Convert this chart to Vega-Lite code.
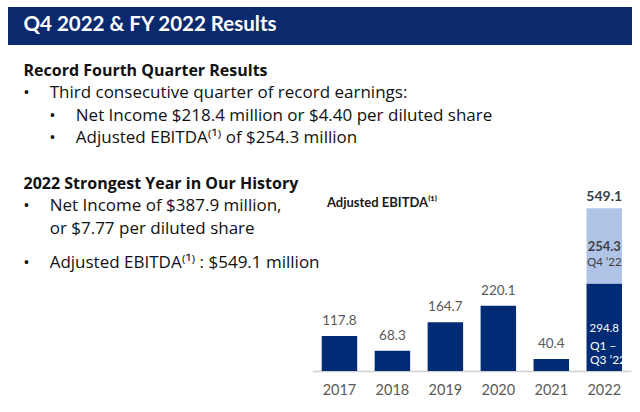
{
  "$schema": "https://vega.github.io/schema/vega-lite/v6.json",
  "width": 624,
  "height": 364,
  "autosize": "none",
  "padding": {"left": 8, "top": 7, "right": 8, "bottom": 41},
  "background": "white",
  "config": {
    "view": {"stroke": null},
    "text": {"font": "Lato"},
    "axis": {"labelFont": "Lato"}
  },
  "datasets": {
    "lines": [
      {"row": 0, "level": 0, "kind": "title", "bullet": false, "text": "Q4 2022 & FY 2022 Results"},
      {"row": 4, "level": 0, "kind": "heading", "bullet": false, "text": "Record Fourth Quarter Results"},
      {"row": 6, "level": 1, "kind": "item", "bullet": true, "text": "Third consecutive quarter of record earnings:"},
      {"row": 8, "level": 2, "kind": "item", "bullet": true, "text": "Net Income $218.4 million or $4.40 per diluted share"},
      {"row": 10, "level": 2, "kind": "item", "bullet": true, "text": "Adjusted EBITDA⁽¹⁾ of $254.3 million"},
      {"row": 14, "level": 0, "kind": "heading", "bullet": false, "text": "2022 Strongest Year in Our History"},
      {"row": 16, "level": 1, "kind": "item", "bullet": true, "text": "Net Income of $387.9 million,"},
      {"row": 18, "level": 1, "kind": "item", "bullet": false, "text": "or $7.77 per diluted share"},
      {"row": 21, "level": 1, "kind": "item", "bullet": true, "text": "Adjusted EBITDA⁽¹⁾ : $549.1 million"}
    ],
    "ebitda": [
      {"year": "2017", "part": "Full year", "value": 117.8},
      {"year": "2018", "part": "Full year", "value": 68.3},
      {"year": "2019", "part": "Full year", "value": 164.7},
      {"year": "2020", "part": "Full year", "value": 220.1},
      {"year": "2021", "part": "Full year", "value": 40.4},
      {"year": "2022", "part": "Q1 –\nQ3 ’22", "value": 294.8},
      {"year": "2022", "part": "Q4 ’22", "value": 254.3}
    ]
  },
  "layer": [
    {
      "data": {"name": "lines"},
      "layer": [
        {
          "transform": [{"filter": "datum.kind == 'title'"}],
          "mark": {"type": "rect", "color": "#0b2a6e"},
          "encoding": {
            "y": {"datum": -2.101, "type": "quantitative", "scale": {"domain": [-2.101, 30.17], "reverse": true, "nice": false, "zero": false}, "axis": null},
            "y2": {"datum": 1.27}
          }
        },
        {
          "transform": [{"filter": "datum.kind == 'title'"}],
          "mark": {"type": "text", "align": "left", "baseline": "alphabetic", "fontSize": 20.5, "fontWeight": "bold", "color": "white"},
          "encoding": {
            "x": {"field": "level", "type": "quantitative", "scale": {"domain": [-0.5927, 23.27], "nice": false, "zero": false}, "axis": null},
            "y": {"field": "row", "type": "quantitative", "scale": {"domain": [-2.101, 30.17], "reverse": true, "nice": false, "zero": false}, "axis": null},
            "text": {"field": "text"}
          }
        },
        {
          "transform": [{"filter": "datum.kind == 'heading'"}],
          "mark": {"type": "text", "align": "left", "baseline": "alphabetic", "font": "Open Sans", "fontSize": 16, "fontWeight": "bold", "color": "#111111"},
          "encoding": {
            "x": {"field": "level", "type": "quantitative"},
            "y": {"field": "row", "type": "quantitative"},
            "text": {"field": "text"}
          }
        },
        {
          "transform": [{"filter": "datum.kind == 'item'"}],
          "mark": {"type": "text", "align": "left", "baseline": "alphabetic", "font": "Open Sans", "fontSize": 17, "color": "#111111"},
          "encoding": {
            "x": {"field": "level", "type": "quantitative"},
            "y": {"field": "row", "type": "quantitative"},
            "text": {"field": "text"}
          }
        },
        {
          "transform": [{"filter": "datum.bullet"}],
          "mark": {"type": "text", "align": "left", "baseline": "alphabetic", "font": "Open Sans", "fontSize": 17, "color": "#111111", "text": "•", "dx": -26.5},
          "encoding": {
            "x": {"field": "level", "type": "quantitative"},
            "y": {"field": "row", "type": "quantitative"}
          }
        }
      ]
    },
    {
      "data": {"name": "ebitda"},
      "transform": [
        {"stack": "value", "groupby": ["year"], "sort": [{"field": "part", "order": "ascending"}], "as": ["v0", "v1"]}
      ],
      "encoding": {
        "x": {
          "field": "year", "type": "ordinal",
          "scale": {"range": [304.7, 623], "paddingInner": 0.33, "paddingOuter": 0.17},
          "axis": {"orient": "bottom", "title": null, "labelAngle": 0, "ticks": false, "domainColor": "#d0d0d0", "domainWidth": 1.5, "labelColor": "#595959", "labelFontSize": 14.5, "labelPadding": 12}
        },
        "y": {"field": "v1", "type": "quantitative", "stack": null, "scale": {"domain": [0, 1228], "nice": false}, "axis": null}
      },
      "layer": [
        {
          "mark": {"type": "bar"},
          "encoding": {
            "y2": {"field": "v0"},
            "color": {"field": "part", "type": "nominal", "scale": {"domain": ["Full year", "Q1 –\nQ3 ’22", "Q4 ’22"], "range": ["#012c75", "#012c75", "#b0c4e8"]}, "legend": null}
          }
        },
        {
          "transform": [{"filter": "datum.year != '2022'"}],
          "mark": {"type": "text", "baseline": "alphabetic", "dy": -11, "fontSize": 13.5, "color": "#595959"},
          "encoding": {"text": {"field": "value", "type": "quantitative", "format": ".1f"}}
        },
        {
          "transform": [{"filter": "datum.part == 'Q4 ’22'"}],
          "mark": {"type": "text", "baseline": "alphabetic", "dy": -7, "fontSize": 14, "fontWeight": "bold", "color": "#404040"},
          "encoding": {"text": {"field": "v1", "type": "quantitative", "format": ".1f"}}
        },
        {
          "transform": [{"filter": "datum.part == 'Q4 ’22'"}],
          "mark": {"type": "text", "baseline": "alphabetic", "dy": 43, "fontSize": 13, "fontWeight": "bold", "color": "#404040"},
          "encoding": {"text": {"field": "value", "type": "quantitative", "format": ".1f"}}
        },
        {
          "transform": [{"filter": "datum.part == 'Q4 ’22'"}],
          "mark": {"type": "text", "baseline": "alphabetic", "dy": 57.4, "fontSize": 11.5, "color": "#404040"},
          "encoding": {"text": {"field": "part"}}
        },
        {
          "transform": [{"filter": "datum.part == 'Q1 –\\nQ3 ’22'"}],
          "mark": {"type": "text", "baseline": "alphabetic", "dy": 48, "fontSize": 11.5, "color": "white"},
          "encoding": {"text": {"field": "value", "type": "quantitative", "format": ".1f"}}
        },
        {
          "transform": [{"filter": "datum.part == 'Q1 –\\nQ3 ’22'"}],
          "mark": {"type": "text", "align": "left", "baseline": "alphabetic", "dy": 66.3, "dx": -14.3, "lineBreak": "\n", "lineHeight": 14.3, "fontSize": 12, "color": "white"},
          "encoding": {"text": {"field": "part"}}
        },
        {
          "transform": [{"filter": "datum.part == 'Q4 ’22'"}],
          "mark": {"type": "text", "text": "Adjusted EBITDA⁽¹⁾", "align": "left", "baseline": "alphabetic", "dx": -12.5, "dy": -1, "fontSize": 13, "fontWeight": "bold", "color": "#1a1a1a"},
          "encoding": {
            "x": {"datum": "2017", "type": "ordinal"},
            "y": {"datum": 549.1, "type": "quantitative"}
          }
        }
      ]
    }
  ],
  "resolve": {"scale": {"x": "independent", "y": "independent"}}
}
